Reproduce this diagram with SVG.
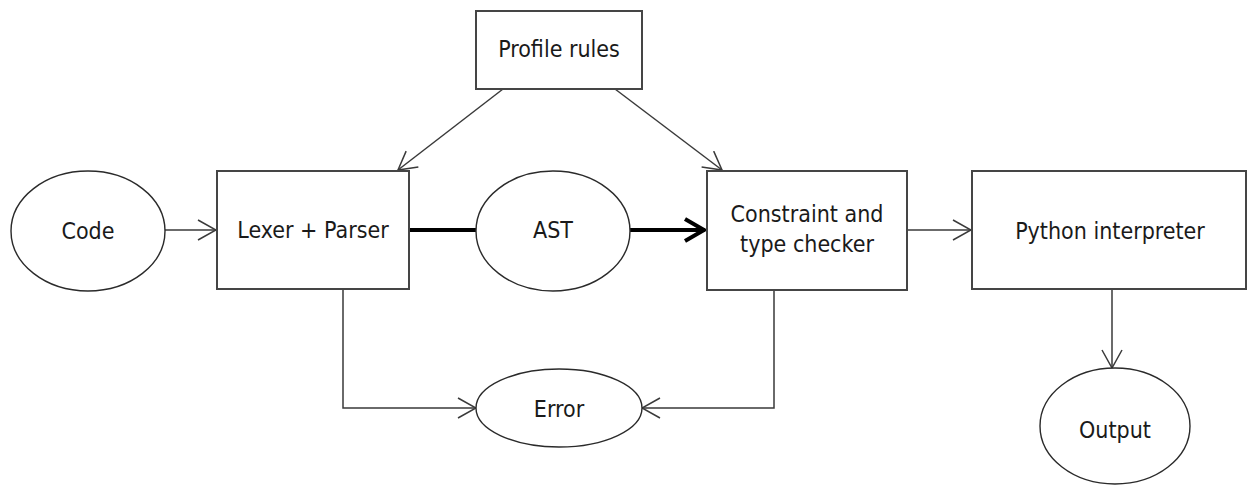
<svg xmlns="http://www.w3.org/2000/svg" width="1248" height="486" viewBox="0 0 1248 486">
  <style>
    .box { fill: #ffffff; stroke: #454545; stroke-width: 2; }
    .ell { fill: #ffffff; stroke: #2a2a2a; stroke-width: 1.4; }
    .lbl { font-family: "DejaVu Sans Condensed", "DejaVu Sans", sans-serif; font-stretch: condensed; font-size: 23px; fill: #1a1a1a; text-anchor: middle; }
    .conn { fill: none; stroke: #3a3a3a; stroke-width: 1.5; }
    .thick { fill: none; stroke: #000000; stroke-width: 4; }
  </style>
  <defs>
    <marker id="arr" viewBox="0 0 20 22" refX="19" refY="11" markerWidth="20" markerHeight="22" markerUnits="userSpaceOnUse" orient="auto">
      <path d="M1,1 L19,11 L1,21" fill="none" stroke="#3a3a3a" stroke-width="1.5"/>
    </marker>
    <marker id="arrThick" viewBox="0 0 26 28" refX="23" refY="14" markerWidth="26" markerHeight="28" markerUnits="userSpaceOnUse" orient="auto">
      <path d="M3,3 L22,14 L3,25" fill="none" stroke="#000000" stroke-width="4"/>
    </marker>
  </defs>
  <rect width="1248" height="486" fill="#ffffff"/>

  <g id="connectors">
    <line class="conn" x1="165" y1="230" x2="216" y2="230" marker-end="url(#arr)"/>
    <line class="thick" x1="409" y1="230" x2="476" y2="230"/>
    <line class="thick" x1="630" y1="230" x2="705" y2="230" marker-end="url(#arrThick)"/>
    <line class="conn" x1="907" y1="230" x2="971" y2="230" marker-end="url(#arr)"/>
    <line class="conn" x1="503" y1="89" x2="398" y2="170" marker-end="url(#arr)"/>
    <line class="conn" x1="615" y1="89" x2="722" y2="170" marker-end="url(#arr)"/>
    <polyline class="conn" points="343,289 343,408 476,408" marker-end="url(#arr)"/>
    <polyline class="conn" points="774,290 774,408 642,408" marker-end="url(#arr)"/>
    <line class="conn" x1="1112" y1="290" x2="1112" y2="368" marker-end="url(#arr)"/>
  </g>

  <g id="node-profile">
    <rect class="box" x="476" y="11" width="166" height="78"/>
    <text class="lbl" x="559" y="57">Profile rules</text>
  </g>
  <g id="node-code">
    <ellipse class="ell" cx="88" cy="231" rx="77" ry="60"/>
    <text class="lbl" x="88" y="239">Code</text>
  </g>
  <g id="node-lexer">
    <rect class="box" x="217" y="171" width="192" height="118"/>
    <text class="lbl" x="313" y="238">Lexer + Parser</text>
  </g>
  <g id="node-ast">
    <ellipse class="ell" cx="553" cy="231" rx="77" ry="60"/>
    <text class="lbl" x="553" y="238">AST</text>
  </g>
  <g id="node-checker">
    <rect class="box" x="707" y="171" width="200" height="119"/>
    <text class="lbl" x="807" y="222">Constraint and</text>
    <text class="lbl" x="807" y="252">type checker</text>
  </g>
  <g id="node-python">
    <rect class="box" x="972" y="171" width="274" height="118"/>
    <text class="lbl" x="1110" y="239">Python interpreter</text>
  </g>
  <g id="node-error">
    <ellipse class="ell" cx="559" cy="408" rx="83" ry="39"/>
    <text class="lbl" x="559" y="417">Error</text>
  </g>
  <g id="node-output">
    <ellipse class="ell" cx="1115" cy="426" rx="75" ry="58"/>
    <text class="lbl" x="1115" y="438">Output</text>
  </g>
</svg>
